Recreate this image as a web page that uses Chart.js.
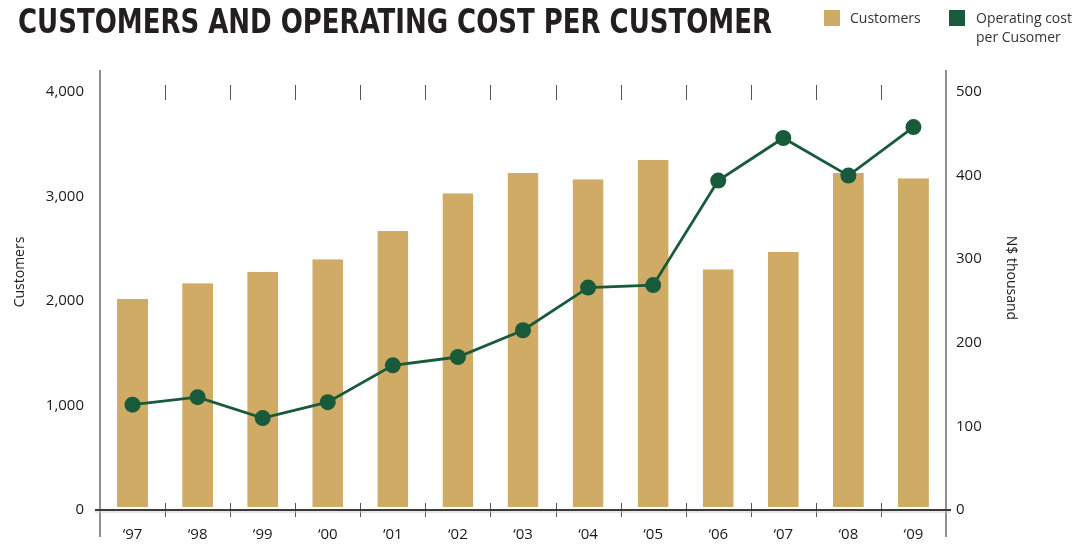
<!DOCTYPE html>
<html>
<head>
<meta charset="utf-8">
<script src="https://cdn.jsdelivr.net/npm/chart.js@4.4.0/dist/chart.umd.min.js"></script>
<style>
  body { margin: 0; background: #fff; }
  #wrap { position: relative; width: 1086px; height: 544px; }
  #chart { position: absolute; left: 0; top: 0; }
  #title {
    position: absolute; left: 18px; top: 2px; margin: 0;
    font-family: "DejaVu Sans Condensed", "DejaVu Sans", sans-serif;
    font-weight: bold; font-size: 33px; color: #231f20;
    white-space: nowrap; transform-origin: left top;
  }
  .leg { position: absolute; font-family: "Open Sans", sans-serif; font-size: 14px; color: #333; line-height: 19px; }
  .sw { position: absolute; width: 16px; height: 16px; }
</style>
</head>
<body>
<div id="wrap">
  <canvas id="chart" width="1086" height="544"></canvas>
  <h1 id="title">CUSTOMERS AND OPERATING COST PER CUSTOMER</h1>
  <div class="sw" style="left:824px; top:10px; background:#cfab66;"></div>
  <div class="leg" style="left:850px; top:8px;">Customers</div>
  <div class="sw" style="left:949px; top:10px; background:#185a3a;"></div>
  <div class="leg" style="left:976px; top:8px;">Operating cost<br>per Cusomer</div>
</div>
<script>
// data
const years = ["\u201897", "\u201898", "\u201899", "\u201800", "\u201801", "\u201802", "\u201803",
               "\u201804", "\u201805", "\u201806", "\u201807", "\u201808", "\u201809"];
const customers = [2020, 2170, 2280, 2400, 2670, 3030, 3225, 3165, 3350, 2305, 2470, 3225, 3175];
const costPerCustomer = [126, 135, 110, 129, 173, 183, 215, 266, 269, 394, 445, 400, 458];

const barColor = "#cfab66";
const lineColor = "#185a3a";
const textFont = '"Open Sans", sans-serif';

// stretch the title to the width it has in the picture
const title = document.getElementById("title");
title.style.transform = "scaleX(" + (754 / title.offsetWidth) + ")";

// axis lines, separators and axis titles
const decor = {
  id: "decor",
  afterDatasetsDraw(chart) {
    const ctx = chart.ctx;
    const x = chart.scales.x;
    const a = chart.chartArea;
    ctx.save();
    ctx.strokeStyle = "#555";
    ctx.lineWidth = 1.3;
    ctx.beginPath();
    ctx.moveTo(a.left, a.top - 22); ctx.lineTo(a.left, a.bottom + 27);
    ctx.moveTo(a.right, a.top - 22); ctx.lineTo(a.right, a.bottom + 27);
    ctx.stroke();

    ctx.lineWidth = 1;
    ctx.beginPath();
    for (let i = 0; i < years.length - 1; i++) {
      const px = Math.round((x.getPixelForValue(i) + x.getPixelForValue(i + 1)) / 2) + 0.5;
      ctx.moveTo(px, a.top - 7); ctx.lineTo(px, a.top + 8);
      ctx.moveTo(px, a.bottom - 7); ctx.lineTo(px, a.bottom + 7);
    }
    ctx.stroke();

    // baseline with a faint shadow
    ctx.strokeStyle = "#ccc";
    ctx.lineWidth = 1;
    ctx.beginPath();
    ctx.moveTo(a.left - 5, a.bottom + 2); ctx.lineTo(a.right + 5, a.bottom + 2);
    ctx.stroke();
    ctx.strokeStyle = "#3a3a3a";
    ctx.lineWidth = 2;
    ctx.beginPath();
    ctx.moveTo(a.left - 5, a.bottom); ctx.lineTo(a.right + 5, a.bottom);
    ctx.stroke();

    ctx.fillStyle = "#222";
    ctx.font = "14px " + textFont;
    ctx.textAlign = "center";
    ctx.textBaseline = "middle";
    ctx.translate(20, 272);
    ctx.rotate(-Math.PI / 2);
    ctx.fillText("Customers", 0, 0);
    ctx.restore();

    ctx.save();
    ctx.fillStyle = "#222";
    ctx.font = "14px " + textFont;
    ctx.textAlign = "center";
    ctx.textBaseline = "middle";
    ctx.translate(1011, 278);
    ctx.rotate(Math.PI / 2);
    ctx.fillText("N$ thousand", 0, 0);
    ctx.restore();
  }
};

const ctx = document.getElementById("chart").getContext("2d");
const chart = new Chart(ctx, {
  data: {
    labels: years,
    datasets: [{
      type: "line",
      label: "Operating cost per Cusomer",
      data: costPerCustomer,
      yAxisID: "y2",
      borderColor: lineColor,
      backgroundColor: lineColor,
      borderWidth: 2.8,
      pointRadius: 8,
      pointBackgroundColor: lineColor,
      pointBorderWidth: 0,
      tension: 0,
      order: 0
    }, {
      type: "bar",
      label: "Customers",
      data: customers,
      yAxisID: "y",
      backgroundColor: barColor,
      borderColor: "#fff",
      borderWidth: { top: 0, left: 0, right: 0, bottom: 3 },
      borderSkipped: false,
      barPercentage: 0.475,
      categoryPercentage: 1,
      order: 1
    }]
  },
  options: {
    responsive: false,
    animation: false,
    layout: { padding: { top: 92, left: 0, right: 0, bottom: 0 } },
    plugins: { legend: { display: false }, tooltip: { enabled: false } },
    scales: {
      x: {
        grid: { display: false, drawTicks: false },
        border: { display: false },
        ticks: { padding: 16, color: "#1a1a1a", font: { family: textFont, size: 15 } },
        afterFit(s) { s.height = 34; }
      },
      y: {
        position: "left",
        min: 0, max: 4000,
        grid: { display: false, drawTicks: false },
        border: { display: false },
        ticks: {
          stepSize: 1000, padding: 16, color: "#1a1a1a",
          font: { family: textFont, size: 15 },
          callback: (v) => v.toLocaleString("en-US")
        },
        afterFit(s) { s.width = 100; }
      },
      y2: {
        position: "right",
        min: 0, max: 500,
        grid: { display: false, drawTicks: false },
        border: { display: false },
        ticks: { stepSize: 100, padding: 10, color: "#1a1a1a", font: { family: textFont, size: 15 } },
        afterFit(s) { s.width = 140; }
      }
    }
  },
  plugins: [decor]
});
</script>
</body>
</html>
